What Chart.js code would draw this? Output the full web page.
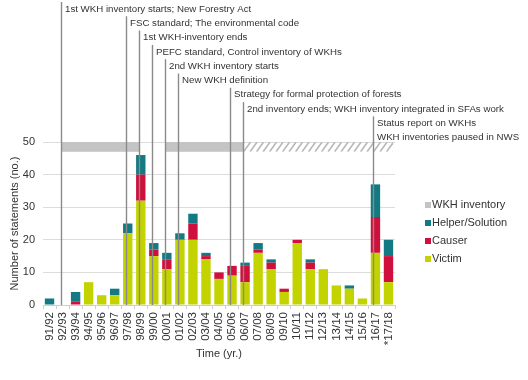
<!DOCTYPE html>
<html><head><meta charset="utf-8">
<script src="https://cdn.jsdelivr.net/npm/chart.js@4.4.1/dist/chart.umd.min.js"></script>
<style>html,body{margin:0;padding:0;background:#fff}#wrap{width:528px;height:380px}</style>
</head><body><div id="wrap"><canvas id="c" width="528" height="380"></canvas></div>
<script>
const categories = ['91/92','92/93','93/94','94/95','95/96','96/97','97/98','98/99','99/00','00/01','01/02','02/03','03/04','04/05','05/06','06/07','07/08','08/09','09/10','10/11','11/12','12/13','13/14','14/15','15/16','16/17','*17/18'];
const victim = [0,0,0,7,3,3,22,32,15,11,20,20,14,8,9,7,16,11,4,19,11,11,6,5,2,16,7];
const causer = [0,0,1,0,0,0,0,8,2,3,0,5,1,2,3,5,1,2,1,1,2,0,0,0,0,11,8];
const helper = [2,0,3,0,0,2,3,6,2,2,2,3,1,0,0,1,2,1,0,0,1,0,0,1,0,10,5];
const yTicks = [0,10,20,30,40,50];

const eventCats = ['92/93','97/98','98/99','99/00','00/01','01/02','05/06','06/07','16/17'];
const eventLabels = [
  ['1st WKH inventory starts; New Forestry Act'],
  ['FSC standard; The environmental code'],
  ['1st WKH-inventory ends'],
  ['PEFC standard, Control inventory of WKHs'],
  ['2nd WKH inventory starts'],
  ['New WKH definition'],
  ['Strategy for formal protection of forests'],
  ['2nd inventory ends; WKH inventory integrated in SFAs work'],
  ['Status report on WKHs','WKH inventories paused in NWS']
];
const inventoryStart = ['92/93','00/01','06/07'];
const inventoryEnd = ['98/99','06/07','*17/18'];
const inventoryHatched = [false,false,true];
const inventoryLow = 47, inventoryHigh = 50;

const C_VICTIM = '#c3d300', C_CAUSER = '#cf0f3c', C_HELPER = '#137a83', C_INV = '#c4c4c4';
const FONT = "'Liberation Sans', Arial, sans-serif";

const overlay = {
  id: 'overlay',
  beforeDatasetsDraw(chart) {
    const {ctx, scales: {x, y}, chartArea} = chart;
    const yTop = y.getPixelForValue(inventoryHigh), yBot = y.getPixelForValue(inventoryLow);
    ctx.save();
    for (let i = 0; i < inventoryStart.length; i++) {
      const x0 = x.getPixelForValue(categories.indexOf(inventoryStart[i])) - 1;
      let x1 = x.getPixelForValue(categories.indexOf(inventoryEnd[i])) - 1;
      if (inventoryHatched[i]) {
        x1 = chartArea.right - 2;
        ctx.save();
        ctx.beginPath(); ctx.rect(x0, yTop, x1 - x0, yBot - yTop); ctx.clip();
        ctx.strokeStyle = '#b8b8b8'; ctx.lineWidth = 1.6;
        for (let s = x0 - 20; s < x1 + 20; s += 6.5) {
          ctx.beginPath(); ctx.moveTo(s, yBot); ctx.lineTo(s + 7, yTop); ctx.stroke();
        }
        ctx.restore();
      } else {
        ctx.fillStyle = C_INV;
        ctx.fillRect(x0, yTop, x1 - x0, yBot - yTop);
      }
    }
    ctx.restore();
  },
  afterDatasetsDraw(chart) {
    const {ctx, scales: {x}, chartArea} = chart;
    ctx.save();
    ctx.font = '9.7px ' + FONT;
    ctx.textBaseline = 'middle';
    ctx.fillStyle = '#333';
    for (let i = 0; i < eventCats.length; i++) {
      const px = Math.round(x.getPixelForValue(categories.indexOf(eventCats[i]))) - 1.5;
      const rowY = 9 + i * 14.3;
      ctx.strokeStyle = '#8a8a8a'; ctx.lineWidth = 1.4;
      ctx.beginPath(); ctx.moveTo(px, rowY - 7); ctx.lineTo(px, chartArea.bottom); ctx.stroke();
      eventLabels[i].forEach((t, k) => ctx.fillText(t, px + 3.5, rowY + k * 14.3));
    }
    // legend
    const items = [['WKH inventory', C_INV], ['Helper/Solution', C_HELPER], ['Causer', C_CAUSER], ['Victim', C_VICTIM]];
    ctx.font = '11px ' + FONT;
    items.forEach((it, k) => {
      const ly = 205 + k * 18;
      ctx.fillStyle = it[1]; ctx.fillRect(425, ly - 3, 6, 6);
      ctx.fillStyle = '#333'; ctx.fillText(it[0], 432, ly);
    });
    ctx.restore();
  }
};

new Chart(document.getElementById('c'), {
  type: 'bar',
  data: {
    labels: categories,
    datasets: [
      {label: 'Victim', data: victim, backgroundColor: C_VICTIM},
      {label: 'Causer', data: causer, backgroundColor: C_CAUSER},
      {label: 'Helper/Solution', data: helper, backgroundColor: C_HELPER}
    ]
  },
  options: {
    responsive: false, animation: false,
    devicePixelRatio: 1,
    layout: {padding: {top: 142, right: 133, bottom: 15, left: 0}},
    datasets: {bar: {categoryPercentage: 0.8, barPercentage: 0.9}},
    plugins: {legend: {display: false}, tooltip: {enabled: false}},
    scales: {
      x: {
        stacked: true,
        grid: {display: true, drawOnChartArea: false, drawTicks: true, tickLength: 4, color: '#c9cfd6', offset: true},
        border: {display: true, color: '#c9cfd6'},
        ticks: {autoSkip: false, maxRotation: 90, minRotation: 90, color: '#333', font: {family: FONT, size: 11.5}, padding: 3},
        title: {display: true, text: 'Time (yr.)', color: '#333', font: {family: FONT, size: 11}, padding: {top: 4, bottom: 4}},
        afterFit(s) { s.height = 60; }
      },
      y: {
        stacked: true, min: 0, max: 50,
        afterBuildTicks(s) { s.ticks = yTicks.map(v => ({value: v})); },
        grid: {color: '#dcdcdc', drawTicks: false},
        border: {display: false},
        ticks: {color: '#333', font: {family: FONT, size: 11}, padding: 8},
        title: {display: true, text: 'Number of statements (no.)', color: '#333', font: {family: FONT, size: 11}, padding: {top: 8, bottom: 0}},
        afterFit(s) { s.width = 43; }
      }
    }
  },
  plugins: [overlay]
});
</script></body></html>
